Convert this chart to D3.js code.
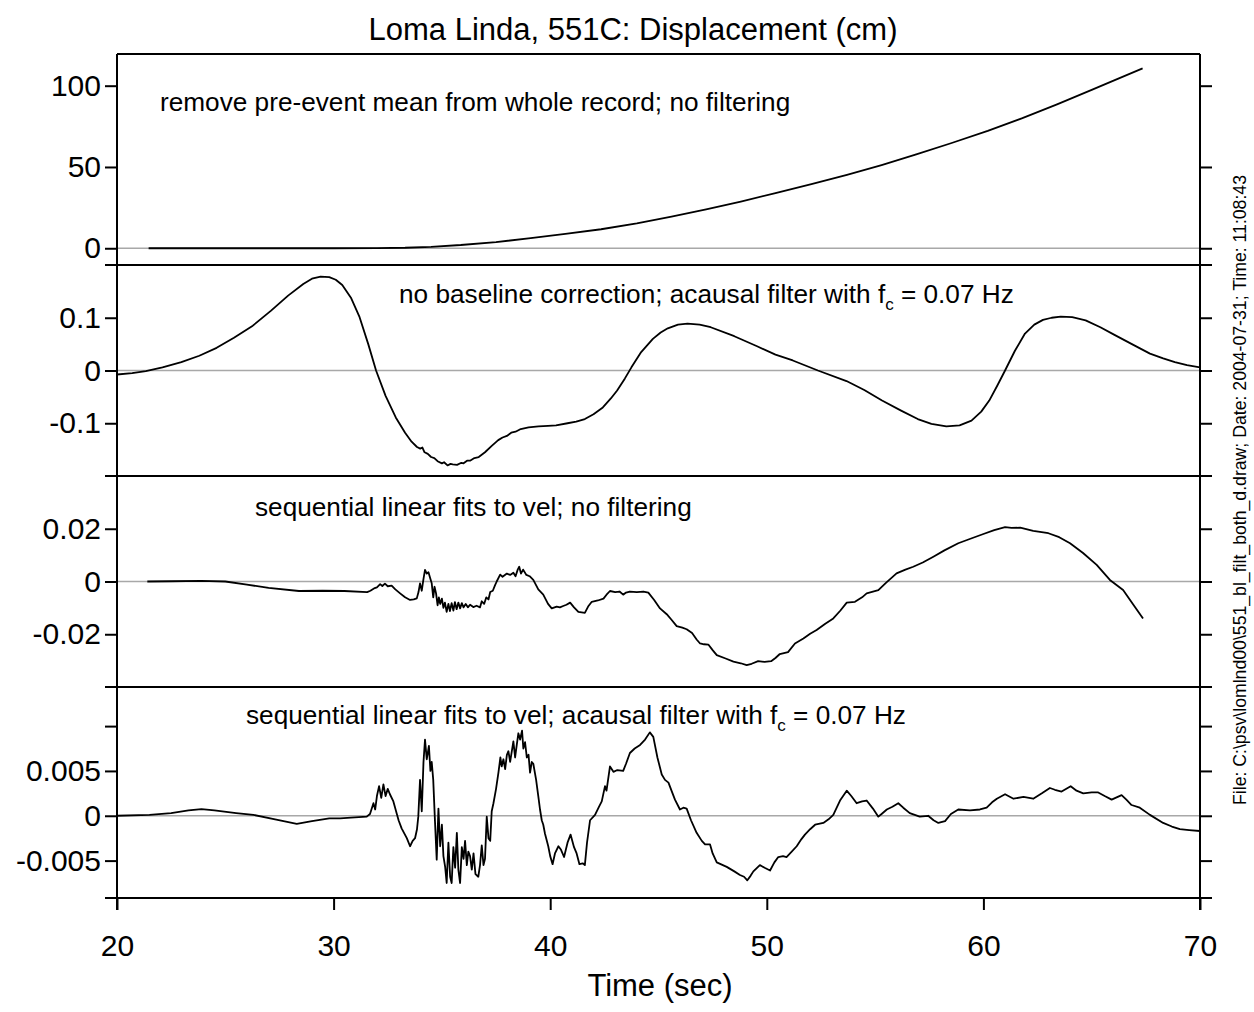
<!DOCTYPE html>
<html><head><meta charset="utf-8">
<script src="https://cdn.jsdelivr.net/npm/d3@7"></script>
<style>
body{margin:0;background:#fff}
svg{display:block}
text{font-family:"Liberation Sans",Arial,Helvetica,sans-serif;fill:#000}
</style>
</head><body>
<svg id="chart" width="1254" height="1012"></svg>
<script>
// ---------------- data ----------------
const timeTicks = [20, 30, 40, 50, 60, 70];

const p1Ticks = [0, 50, 100];
const p1Labels = ["0", "50", "100"];
const p2Ticks = [-0.1, 0, 0.1];
const p2Labels = ["-0.1", "0", "0.1"];
const p3Ticks = [-0.02, 0, 0.02];
const p3Labels = ["-0.02", "0", "0.02"];
const p4Ticks = [-0.005, 0, 0.005, 0.01];
const p4Labels = ["-0.005", "0", "0.005", ""];

const p1Domain = [-10.3, 119.5];
const p2Domain = [-0.2, 0.2];
const p3Domain = [-0.04, 0.04];
const p4Domain = [-0.00917, 0.01436];

// panel 1: remove pre-event mean, no filtering
const panel1 = [[21.46,0],[25,0],[30,0],[32,0.05],[33.3,0.3],[34.5,0.9],[35.87,2.0],[37.5,3.8],[39.1,6.2],[40.7,8.8],[42.35,11.7],[44,15.3],[45.6,19.4],[47.2,23.9],[48.8,28.7],[50.4,33.9],[52.06,39.4],[53.7,45.2],[55.3,51.2],[56.9,57.7],[58.5,64.6],[60.2,72.2],[61.8,80],[63.4,88.5],[65.0,97.4],[66.2,104.2],[67.35,110.7]];

// panel 2: no baseline correction, acausal filter
const panel2 = [[20,-0.0076],[20.7,-0.005],[21.33,-0.001],[22.1,0.006],[22.97,0.016],[23.8,0.028],[24.6,0.043],[25.4,0.062],[26.27,0.085],[27.1,0.113],[27.9,0.142],[28.6,0.164],[29.0,0.174],[29.4,0.178],[29.8,0.177],[30.1,0.172],[30.4,0.162],[30.8,0.138],[31.2,0.101],[31.6,0.05],[31.96,0],[32.4,-0.048],[32.87,-0.089],[33.3,-0.118],[33.6,-0.135],[33.85,-0.145],[34.0,-0.148],[34.1,-0.146],[34.2,-0.155],[34.35,-0.158],[34.5,-0.164],[34.65,-0.166],[34.8,-0.172],[35.0,-0.176],[35.1,-0.174],[35.26,-0.18],[35.4,-0.177],[35.5,-0.178],[35.7,-0.179],[35.9,-0.175],[36.0,-0.176],[36.16,-0.171],[36.3,-0.171],[36.5,-0.166],[36.7,-0.164],[36.99,-0.155],[37.3,-0.143],[37.6,-0.132],[37.8,-0.127],[38.0,-0.124],[38.2,-0.118],[38.4,-0.116],[38.64,-0.111],[39.0,-0.108],[39.46,-0.106],[39.9,-0.105],[40.27,-0.104],[40.8,-0.1],[41.2,-0.097],[41.6,-0.092],[42.0,-0.083],[42.43,-0.07],[42.8,-0.053],[43.09,-0.038],[43.45,-0.015],[43.75,0.006],[44.2,0.035],[44.74,0.06],[45.1,0.072],[45.43,0.08],[45.9,0.087],[46.34,0.089],[46.9,0.087],[47.41,0.082],[48.5,0.065],[49.55,0.046],[50.4,0.03],[51.2,0.019],[52.36,0],[53.68,-0.02],[54.5,-0.037],[55.32,-0.057],[56.2,-0.076],[56.97,-0.092],[57.6,-0.101],[58.29,-0.106],[58.9,-0.104],[59.45,-0.095],[59.9,-0.078],[60.27,-0.057],[60.65,-0.028],[61.0,0],[61.45,0.037],[61.92,0.07],[62.35,0.087],[62.75,0.096],[63.15,0.1],[63.57,0.102],[64.1,0.101],[64.72,0.095],[65.4,0.082],[66.03,0.068],[66.9,0.049],[67.69,0.032],[68.3,0.023],[68.84,0.016],[69.4,0.01],[70,0.006]];

// panel 3: sequential linear fits to velocity, no filtering
const panel3 = [[21.4,0],[22.5,0.0001],[23.9,0.0002],[25,0],[26,-0.0012],[27,-0.0024],[28.4,-0.0036],[29.5,-0.0035],[30.5,-0.0036],[31.55,-0.004],[31.7,-0.0035],[31.9,-0.0025],[32.0,-0.0022],[32.15,-0.001],[32.25,-0.0017],[32.37,-0.0008],[32.5,-0.0018],[32.68,-0.0016],[32.85,-0.003],[33.07,-0.0045],[33.3,-0.006],[33.53,-0.007],[33.7,-0.0068],[33.84,-0.0064],[33.92,-0.004],[33.99,-0.0007],[34.07,-0.0035],[34.15,0.001],[34.22,0.0044],[34.3,0.003],[34.38,0.0035],[34.45,0.0015],[34.53,-0.0007],[34.6,-0.006],[34.66,-0.002],[34.73,-0.0045],[34.8,-0.009],[34.86,-0.006],[34.92,-0.0085],[35.0,-0.0065],[35.07,-0.01],[35.14,-0.008],[35.22,-0.0115],[35.3,-0.0085],[35.37,-0.0112],[35.45,-0.0082],[35.53,-0.011],[35.6,-0.0078],[35.68,-0.0105],[35.76,-0.008],[35.84,-0.0102],[35.92,-0.0082],[36.0,-0.0098],[36.1,-0.0085],[36.2,-0.0098],[36.3,-0.0088],[36.45,-0.0097],[36.6,-0.0092],[36.76,-0.0098],[36.84,-0.0075],[36.95,-0.0085],[37.05,-0.006],[37.15,-0.0068],[37.23,-0.004],[37.35,-0.0035],[37.45,-0.0015],[37.53,0],[37.69,0.0026],[37.8,0.0018],[38.0,0.003],[38.15,0.0025],[38.3,0.0033],[38.4,0.002],[38.5,0.0045],[38.57,0.0056],[38.65,0.003],[38.75,0.0045],[38.9,0.0025],[39.05,0.002],[39.22,0.0006],[39.45,-0.003],[39.68,-0.005],[39.9,-0.0085],[40.07,-0.0102],[40.3,-0.0095],[40.45,-0.0098],[40.6,-0.0093],[40.75,-0.0088],[40.92,-0.008],[41.1,-0.0098],[41.3,-0.0115],[41.6,-0.0119],[41.75,-0.0095],[41.92,-0.0077],[42.2,-0.0072],[42.46,-0.0065],[42.6,-0.005],[42.76,-0.0036],[43.0,-0.004],[43.2,-0.0038],[43.37,-0.005],[43.5,-0.0042],[43.68,-0.0038],[44.0,-0.004],[44.3,-0.0038],[44.53,-0.0042],[44.8,-0.007],[45.07,-0.0102],[45.38,-0.0124],[45.6,-0.0145],[45.84,-0.0169],[46.1,-0.0175],[46.3,-0.0181],[46.55,-0.0195],[46.76,-0.022],[46.92,-0.0235],[47.1,-0.0238],[47.3,-0.0239],[47.5,-0.026],[47.69,-0.0279],[48.1,-0.0292],[48.46,-0.0304],[48.8,-0.031],[49.07,-0.0317],[49.3,-0.0312],[49.6,-0.0302],[49.9,-0.0305],[50.2,-0.0302],[50.4,-0.029],[50.6,-0.0275],[50.98,-0.0268],[51.3,-0.0235],[51.69,-0.0216],[52.0,-0.0198],[52.3,-0.0184],[52.7,-0.016],[53.07,-0.014],[53.4,-0.011],[53.69,-0.008],[54.07,-0.0077],[54.4,-0.006],[54.61,-0.0045],[55.15,-0.0033],[55.5,-0.0005],[55.99,0.0031],[56.4,0.0045],[56.76,0.0056],[57.2,0.0072],[57.69,0.0094],[58.2,0.0118],[58.84,0.0145],[59.4,0.0162],[60.0,0.018],[60.5,0.0195],[61.0,0.0206],[61.3,0.0203],[61.7,0.0204],[62.3,0.0192],[63.0,0.0183],[63.5,0.0168],[64.0,0.0145],[64.6,0.0108],[65.23,0.0063],[65.84,0.0006],[66.45,-0.0032],[66.9,-0.0085],[67.37,-0.014]];

// panel 4: sequential linear fits to velocity, acausal filter
const panel4 = [[20,0],[21.5,0.0001],[22.5,0.0003],[23.3,0.0006],[23.9,0.00075],[24.5,0.0006],[25.5,0.0003],[26.3,0.0001],[27.3,-0.0004],[28.3,-0.0009],[29.0,-0.0006],[29.8,-0.0003],[30.3,-0.0003],[30.8,-0.0002],[31.53,-0.0001],[31.68,0.0002],[31.84,0.0014],[31.92,0.0007],[32.0,0.0022],[32.1,0.0033],[32.2,0.002],[32.3,0.0035],[32.4,0.0022],[32.5,0.003],[32.6,0.0024],[32.76,0.0016],[32.92,0.0002],[33.0,-0.0005],[33.14,-0.0014],[33.38,-0.0025],[33.53,-0.0034],[33.65,-0.0028],[33.76,-0.0025],[33.85,-0.0015],[33.91,-0.0001],[33.99,0.004],[34.07,0.0005],[34.15,0.006],[34.22,0.0085],[34.3,0.0063],[34.4,0.0078],[34.47,0.005],[34.53,0.006],[34.6,0.004],[34.68,-0.0006],[34.76,-0.0049],[34.84,0.0008],[34.92,-0.0034],[35.0,-0.001],[35.07,-0.0045],[35.15,-0.0057],[35.22,-0.0075],[35.3,-0.003],[35.38,-0.0068],[35.45,-0.0075],[35.53,-0.0035],[35.61,-0.0058],[35.69,-0.0019],[35.76,-0.006],[35.84,-0.0075],[35.92,-0.0035],[36.0,-0.0048],[36.07,-0.0028],[36.15,-0.0055],[36.22,-0.004],[36.3,-0.0045],[36.38,-0.006],[36.46,-0.0042],[36.55,-0.0065],[36.68,-0.0068],[36.76,-0.0055],[36.84,-0.0033],[36.92,-0.0055],[36.99,-0.0048],[37.07,-0.0001],[37.15,-0.0025],[37.23,-0.0028],[37.3,0.0005],[37.38,0.0014],[37.5,0.003],[37.61,0.0048],[37.7,0.0065],[37.76,0.0055],[37.84,0.0063],[37.92,0.0052],[38.0,0.0068],[38.07,0.0072],[38.15,0.006],[38.3,0.0083],[38.38,0.0065],[38.45,0.0078],[38.53,0.0092],[38.61,0.0085],[38.7,0.0095],[38.76,0.0075],[38.84,0.0082],[38.92,0.0065],[39.0,0.0068],[39.07,0.0048],[39.15,0.006],[39.22,0.0058],[39.35,0.004],[39.45,0.0022],[39.53,0.0007],[39.61,-0.0005],[39.68,-0.001],[39.76,-0.002],[39.91,-0.0034],[40.0,-0.0045],[40.11,-0.0054],[40.22,-0.0042],[40.38,-0.0034],[40.5,-0.0038],[40.64,-0.0046],[40.8,-0.003],[40.94,-0.0021],[41.1,-0.0035],[41.22,-0.0042],[41.35,-0.0054],[41.5,-0.0053],[41.6,-0.0055],[41.7,-0.003],[41.84,-0.0005],[42.07,0.0001],[42.25,0.001],[42.38,0.0016],[42.53,0.0033],[42.6,0.0028],[42.76,0.0055],[42.92,0.0049],[43.1,0.0051],[43.37,0.005],[43.5,0.0058],[43.68,0.007],[43.9,0.0075],[44.15,0.0079],[44.38,0.0085],[44.6,0.0093],[44.76,0.0088],[44.95,0.0065],[45.15,0.0046],[45.3,0.004],[45.46,0.0037],[45.6,0.0028],[45.76,0.0018],[45.99,0.0007],[46.15,0.0009],[46.3,0.0008],[46.5,-0.0005],[46.76,-0.0019],[47.0,-0.0028],[47.15,-0.0032],[47.38,-0.0032],[47.5,-0.0042],[47.69,-0.0052],[48.15,-0.0057],[48.5,-0.0062],[48.76,-0.0066],[48.95,-0.0068],[49.1,-0.0072],[49.25,-0.0067],[49.38,-0.0062],[49.68,-0.0055],[49.9,-0.0058],[50.15,-0.0061],[50.35,-0.0052],[50.53,-0.0046],[50.75,-0.0045],[50.91,-0.0046],[51.15,-0.004],[51.38,-0.0034],[51.6,-0.0026],[51.76,-0.0021],[52.0,-0.0015],[52.23,-0.001],[52.61,-0.0008],[52.85,-0.0004],[53.07,0.0001],[53.38,0.0017],[53.69,0.0028],[53.9,0.0022],[54.15,0.0014],[54.4,0.0016],[54.61,0.0017],[54.9,0.0008],[55.15,-0.0001],[55.3,0.0002],[55.54,0.0007],[55.8,0.001],[56.07,0.0014],[56.3,0.0009],[56.6,0.0003],[57.06,-0.0001],[57.45,0],[57.7,-0.0005],[57.92,-0.0008],[58.23,-0.0006],[58.5,0.0002],[58.84,0.0007],[59.38,0.0006],[59.84,0.0007],[60.15,0.0009],[60.4,0.0015],[60.62,0.0019],[61.0,0.0024],[61.39,0.0019],[61.85,0.0021],[62.3,0.0019],[62.7,0.0025],[63.07,0.0031],[63.3,0.0029],[63.61,0.0027],[64.03,0.0033],[64.3,0.0028],[64.61,0.0025],[65.0,0.0026],[65.3,0.0026],[65.6,0.0022],[65.92,0.0018],[66.1,0.002],[66.38,0.0023],[66.6,0.0018],[66.84,0.0012],[67.22,0.0009],[67.69,0.0001],[68.3,-0.0008],[68.7,-0.0012],[69.07,-0.0015],[69.5,-0.0016],[70.0,-0.0017]];

const titleText = "Loma Linda, 551C: Displacement (cm)";
const xTitleText = "Time (sec)";
const fileText = "File: C:\\psv\\lomlnd00\\551_bl_filt_both_d.draw; Date: 2004-07-31; Time: 11:08:43";
const notes = [
  ["remove pre-event mean from whole record; no filtering"],
  ["no baseline correction; acausal filter with f", "c", " = 0.07 Hz"],
  ["sequential linear fits to vel; no filtering"],
  ["sequential linear fits to vel; acausal filter with f", "c", " = 0.07 Hz"]
];

// ---------------- layout ----------------
const W = 1254, H = 1012;
const L = 117, R = 1200;
const bounds = [54, 265, 476, 687, 898];
const tickLen = 12;
const noteX = [160, 399, 255, 246];
const noteY = [111, 303, 516, 724];

const svg = d3.select("#chart");
const x = d3.scaleLinear().domain([20, 70]).range([L, R]);

const panels = [
  {data: panel1, domain: p1Domain, ticks: p1Ticks, labels: p1Labels},
  {data: panel2, domain: p2Domain, ticks: p2Ticks, labels: p2Labels},
  {data: panel3, domain: p3Domain, ticks: p3Ticks, labels: p3Labels},
  {data: panel4, domain: p4Domain, ticks: p4Ticks, labels: p4Labels}
];

const defs = svg.append("defs");

panels.forEach((p, i) => {
  const top = bounds[i], bot = bounds[i + 1];
  const y = d3.scaleLinear().domain(p.domain).range([bot, top]);
  defs.append("clipPath").attr("id", "clip" + i)
    .append("rect").attr("x", L).attr("y", top).attr("width", R - L).attr("height", bot - top);

  // zero line
  svg.append("line")
    .attr("x1", L).attr("x2", R).attr("y1", y(0)).attr("y2", y(0))
    .attr("stroke", "#a8a8a8").attr("stroke-width", 1.6);

  // data
  svg.append("path").datum(p.data)
    .attr("clip-path", `url(#clip${i})`)
    .attr("fill", "none").attr("stroke", "#000").attr("stroke-width", 1.8)
    .attr("stroke-linejoin", "round")
    .attr("d", d3.line().x(d => x(d[0])).y(d => y(d[1])));

  // left axis
  const la = svg.append("g").attr("transform", `translate(${L},0)`)
    .call(d3.axisLeft(y).tickValues(p.ticks).tickSize(tickLen).tickPadding(4)
      .tickFormat((d, k) => p.labels[k]));
  la.select(".domain").remove();
  la.selectAll("line").attr("stroke", "#000").attr("stroke-width", 2);
  la.selectAll("text").attr("font-size", 30).attr("font-family", null).attr("fill", "#000");

  // right axis
  const ra = svg.append("g").attr("transform", `translate(${R},0)`)
    .call(d3.axisRight(y).tickValues(p.ticks).tickSize(tickLen).tickFormat(""));
  ra.select(".domain").remove();
  ra.selectAll("line").attr("stroke", "#000").attr("stroke-width", 2);

  // note
  const n = notes[i];
  const t = svg.append("text").attr("x", noteX[i]).attr("y", noteY[i]).attr("font-size", 26.2);
  t.append("tspan").text(n[0]);
  if (n.length > 1) {
    t.append("tspan").attr("font-size", 17).attr("dy", 7).text(n[1]);
    t.append("tspan").attr("dy", -7).text(n[2]);
  }
});

// bottom axis
const ba = svg.append("g").attr("transform", `translate(0,${bounds[4]})`)
  .call(d3.axisBottom(x).tickValues(timeTicks).tickSize(tickLen).tickFormat(d3.format("d")));
ba.select(".domain").remove();
ba.selectAll("line").attr("stroke", "#000").attr("stroke-width", 2);
ba.selectAll("text").attr("font-size", 30).attr("font-family", null).attr("fill", "#000")
  .attr("y", 58).attr("dy", null);

// frame
const frame = svg.append("g").attr("stroke", "#000").attr("stroke-width", 2);
frame.append("line").attr("x1", L).attr("x2", L).attr("y1", bounds[0]).attr("y2", bounds[4] + tickLen);
frame.append("line").attr("x1", R).attr("x2", R).attr("y1", bounds[0]).attr("y2", bounds[4] + tickLen);
frame.append("line").attr("x1", L).attr("x2", R).attr("y1", bounds[0]).attr("y2", bounds[0]);
bounds.slice(1).forEach(b => {
  frame.append("line").attr("x1", L - tickLen).attr("x2", R + tickLen).attr("y1", b).attr("y2", b);
});

// titles
svg.append("text").attr("x", 633).attr("y", 40).attr("text-anchor", "middle")
  .attr("font-size", 31).text(titleText);
svg.append("text").attr("x", 660).attr("y", 996).attr("text-anchor", "middle")
  .attr("font-size", 31).text(xTitleText);

// side file stamp
svg.append("text")
  .attr("transform", "translate(1246,490) rotate(-90)")
  .attr("text-anchor", "middle")
  .style("font-family", "'Liberation Sans Narrow','Liberation Sans',Arial,sans-serif")
  .attr("font-size", 18)
  .attr("textLength", 630).attr("lengthAdjust", "spacingAndGlyphs")
  .text(fileText);
</script>
</body></html>
